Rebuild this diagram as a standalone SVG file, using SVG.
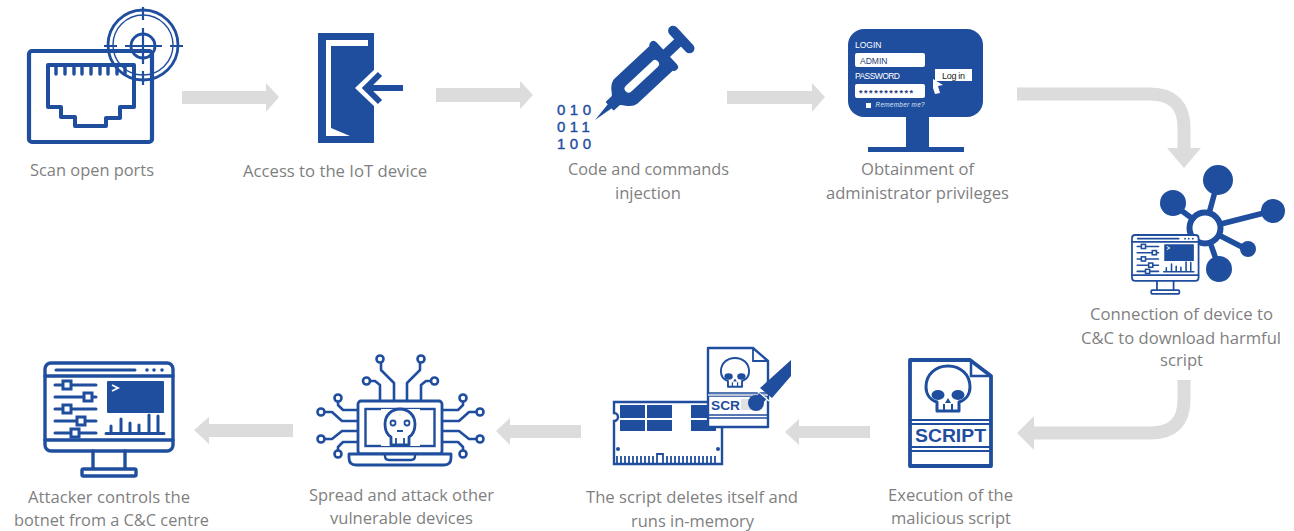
<svg xmlns="http://www.w3.org/2000/svg" xmlns:xlink="http://www.w3.org/1999/xlink" width="1294" height="531" viewBox="0 0 1294 531">
<style>
.lbl{font-family:"Open Sans","Noto Sans",sans-serif;font-size:16px;fill:#7f7f7f;text-anchor:middle}
.o{fill:none;stroke:#1f4e9e;stroke-linejoin:round;stroke-linecap:round}
.f{fill:#1f4e9e}
.w{fill:#fff}
.arr{fill:#dcdcdc}
.bent{fill:none;stroke:#dcdcdc;stroke-width:13}
.ui{font-family:"Liberation Sans",sans-serif}
.bold{font-family:"Liberation Sans",sans-serif;font-weight:bold;fill:#1f4e9e}
.bin{font-family:"Liberation Sans",sans-serif;font-size:15px;fill:#1f4e9e;stroke:#1f4e9e;stroke-width:.4;letter-spacing:4.5px}
</style>
<defs>
<g id="skull">
<path d="M-11 23H11V14C18 12 22 6 22-1C22-14 12-22 0-22C-12-22-22-14-22-1C-22 6-18 12-11 14Z" fill="#fff" stroke="#1f4e9e" stroke-width="3" stroke-linejoin="round"/>
<path d="M-4 16V23M4 16V23" fill="none" stroke="#1f4e9e" stroke-width="2"/>
</g>
<g id="skull-eyes">
<ellipse cx="-10" cy="7" rx="6.5" ry="5" class="f"/><ellipse cx="10" cy="7" rx="6.5" ry="5" class="f"/>
<path d="M0 10L-3 15H3Z" class="f"/>
</g>
<g id="control">
<rect x="45" y="363" width="128" height="88" rx="6" fill="#fff" stroke="#1f4e9e" stroke-width="3.400"/>
<path d="M45 376H173M45 440H173" class="o" stroke-width="3.400"/>
<path d="M56 370H135" class="o" stroke-width="3"/>
<circle cx="147" cy="370" r="1.800" class="f"/><circle cx="154" cy="370" r="1.800" class="f"/><circle cx="162" cy="370" r="1.800" class="f"/>
<path d="M55 385H96M55 397H96M55 409H96M55 421H96M55 433H96" class="o" stroke-width="3"/>
<g fill="#fff" stroke="#1f4e9e" stroke-width="3">
<rect x="63" y="381" width="8" height="8"/><rect x="84" y="393" width="8" height="8"/><rect x="63" y="405" width="8" height="8"/><rect x="77" y="417" width="8" height="8"/><rect x="71" y="429" width="8" height="8"/>
</g>
<rect x="107" y="381" width="57" height="32" rx="1" class="f"/>
<path d="M112 385L118 388L112 391" fill="none" stroke="#fff" stroke-width="1.800"/>
<path d="M106 433.500H164M111 433V426M121 433V419M130 433V423M139 433V425M149 433V415M158 433V416" class="o" stroke-width="3"/>
<path d="M93 451V469M125 451V469" class="o" stroke-width="3.400"/>
<rect x="82" y="469" width="54" height="7" rx="1.500" fill="#fff" stroke="#1f4e9e" stroke-width="3.400"/>
</g>
</defs>

<g id="connectors">
<path class="arr" d="M182 91H266V83L279 97L266 112V104H182Z"/>
<path class="arr" d="M436 88H520V81L533 95L520 109V102H436Z"/>
<path class="arr" d="M727 91H812V83L825 97L812 112V104H727Z"/>
<path class="bent" d="M1017 94H1150Q1184 94 1184 128V150"/>
<path class="arr" d="M1167 148H1201L1184 168Z"/>
<path class="bent" d="M1184 380V400Q1184 433 1150 433H1032"/>
<path class="arr" d="M1034 416V450L1017 433Z"/>
<path class="arr" d="M870 426H799V419L785 432L799 445V438H870Z"/>
<path class="arr" d="M581 425H510V418L496 431L510 445V438H581Z"/>
<path class="arr" d="M293 424H209V417L194 430L209 444V437H293Z"/>
</g>

<g id="node-scan">
<rect x="29" y="51" width="123" height="91" rx="3" class="o" stroke-width="4.200"/>
<path d="M48 65H134V107H120V118H106V126H75V117H61V107H48Z" class="o" stroke-width="4"/>
<path d="M56 65V74M65 65V74M74 65V74M82 65V74M91 65V74M100 65V74M108 65V74M117 65V74M125 65V74" class="o" stroke-width="3.400" stroke-linecap="butt"/>
<g fill="none" stroke="#1f4e9e" stroke-width="2">
<circle cx="143" cy="45" r="35" stroke-width="2.800"/><circle cx="143" cy="45" r="30" stroke-width="1.400"/>
<circle cx="143" cy="46" r="12" stroke-width="2.800"/>
<path d="M143 7V20M143 71V85M104 46H117M170 46H183M143 28V64M125 46H162" stroke-width="2.200"/>
</g>
<text class="lbl" x="92" y="176" textLength="124" lengthAdjust="spacingAndGlyphs">Scan open ports</text>
</g>

<g id="node-access">
<rect x="318" y="33" width="56" height="110" class="f"/>
<path d="M326 40H368V46H331V128L350 136H326Z" class="w"/>
<path d="M376 68L355 88L376 108Z" class="w"/>
<path d="M380 74L366 88L380 102" fill="none" stroke="#1f4e9e" stroke-width="6"/>
<path d="M367 88H403" fill="none" stroke="#1f4e9e" stroke-width="6"/>
<text class="lbl" x="335" y="177" textLength="184" lengthAdjust="spacingAndGlyphs">Access to the IoT device</text>
</g>

<g id="node-inject">
<g transform="translate(595 120) rotate(-43)">
<path d="M0 0L22-3V3Z" class="f"/>
<path d="M21-5H28C32-5 33-15 42-16H94V16H42C33 15 32 5 28 5H21Z" class="f" stroke="#1f4e9e" stroke-width="2" stroke-linejoin="round"/>
<rect x="90" y="-19" width="8" height="38" rx="4" class="f"/>
<rect x="97" y="-5" width="20" height="10" class="f"/>
<rect x="113" y="-17" width="10" height="34" rx="5" class="f"/>
<rect x="42" y="-4" width="44" height="8" rx="4" class="w"/>
</g>
<text class="bin" x="557" y="115">010</text>
<text class="bin" x="557" y="132">011</text>
<text class="bin" x="557" y="149">100</text>
<text class="lbl" x="648.500" y="175" textLength="161" lengthAdjust="spacingAndGlyphs">Code and commands</text>
<text class="lbl" x="648" y="199" textLength="66" lengthAdjust="spacingAndGlyphs">injection</text>
</g>

<g id="node-login">
<rect x="848" y="29" width="135" height="88" rx="16" class="f"/>
<rect x="906" y="117" width="23" height="31" class="f"/>
<rect x="868" y="147" width="96" height="5" class="f"/>
<text class="ui" x="855" y="48" font-size="8.500" fill="#fff">LOGIN</text>
<rect x="855" y="53" width="70" height="14" rx="2" class="w"/>
<text class="ui" x="860" y="64" font-size="8.500" fill="#1f3d7a">ADMIN</text>
<text class="ui" x="855" y="78.500" font-size="8.500" fill="#fff" textLength="45">PASSWORD</text>
<rect x="855" y="84" width="70" height="14" rx="2" class="w"/>
<text class="ui" x="859" y="95.500" font-size="9" font-weight="bold" fill="#1f3d7a" textLength="54">***********</text>
<rect x="935" y="69" width="37" height="12" class="w"/>
<text class="ui" x="942" y="79" font-size="9" fill="#222" textLength="23">Log in</text>
<path d="M933 79L943 85L938 86L940 93L935 94L933 88Z" fill="#fff"/>
<rect x="866" y="103" width="5" height="5" class="w"/>
<text class="ui" x="875.500" y="107" font-size="6.300" font-style="italic" fill="#dbe4f5" textLength="49">Remember me?</text>
<text class="lbl" x="917.500" y="175" textLength="113" lengthAdjust="spacingAndGlyphs">Obtainment of</text>
<text class="lbl" x="917.500" y="199" textLength="183" lengthAdjust="spacingAndGlyphs">administrator privileges</text>
</g>

<g id="node-connection">
<path d="M1205 228L1216 188M1205 228L1178 208M1205 228L1268 212M1205 228L1246 249M1205 228L1217 262" class="o" stroke-width="5.500" stroke-linecap="butt"/>
<circle cx="1218" cy="180" r="15" class="f"/><circle cx="1173" cy="203" r="13" class="f"/><circle cx="1273" cy="211" r="12" class="f"/><circle cx="1248" cy="249" r="8" class="f"/><circle cx="1219" cy="269" r="13" class="f"/>
<circle cx="1205" cy="228" r="15.500" fill="#fff" stroke="#1f4e9e" stroke-width="6"/>
<use xlink:href="#control" href="#control" transform="translate(1132 235) scale(.52) translate(-45 -363)"/>
<text class="lbl" x="1181.500" y="320" textLength="183" lengthAdjust="spacingAndGlyphs">Connection of device to</text>
<text class="lbl" x="1181" y="344" textLength="200" lengthAdjust="spacingAndGlyphs">C&amp;C to download harmful</text>
<text class="lbl" x="1181.500" y="366" textLength="43" lengthAdjust="spacingAndGlyphs">script</text>
</g>

<g id="node-execution">
<path d="M910 360H970L991 376V466H910Z" fill="#fff" stroke="#1f4e9e" stroke-width="3.800" stroke-linejoin="round"/>
<path d="M971 360V376H991" fill="none" stroke="#1f4e9e" stroke-width="2.500"/>
<path d="M910 420H991M910 424H991M910 447H991M910 451H991" fill="none" stroke="#1f4e9e" stroke-width="1.800"/>
<use href="#skull" xlink:href="#skull" transform="translate(948 388)"/>
<use href="#skull-eyes" xlink:href="#skull-eyes" transform="translate(948 388)"/>
<text class="bold" x="950.500" y="441.500" font-size="19" text-anchor="middle" textLength="71" lengthAdjust="spacingAndGlyphs">SCRIPT</text>
<text class="lbl" x="950.500" y="501" textLength="125" lengthAdjust="spacingAndGlyphs">Execution of the</text>
<text class="lbl" x="951" y="524" textLength="120" lengthAdjust="spacingAndGlyphs">malicious script</text>
</g>

<g id="node-memory">
<path d="M614 402H722V464H614V421A4 4 0 0 0 614 413Z" fill="#fff" stroke="#1f4e9e" stroke-width="2.400"/>
<rect x="620" y="405" width="25" height="13" class="f"/><rect x="647" y="405" width="25" height="13" class="f"/><rect x="691" y="405" width="25" height="13" class="f"/>
<rect x="620" y="420" width="25" height="11" class="f"/><rect x="647" y="420" width="25" height="11" class="f"/><rect x="691" y="420" width="25" height="11" class="f"/>
<circle cx="618" cy="449" r="2" class="f"/><circle cx="718" cy="449" r="2" class="f"/>
<path d="M617 464V456M621 464V456M625 464V456M629 464V456M633 464V456M637 464V456M641 464V456M645 464V456M649 464V456M653 464V456M657 464V454H663V464M667 464V456M671 464V456M675 464V456M679 464V456M683 464V456M687 464V456M691 464V456M695 464V456M699 464V456M703 464V456M707 464V456M711 464V456M715 464V456" fill="none" stroke="#1f4e9e" stroke-width="1.800"/>
<path d="M708 348H753L768 361V427H708Z" fill="#fff" stroke="#1f4e9e" stroke-width="2.400" stroke-linejoin="round"/>
<path d="M753 348V361H768" fill="none" stroke="#1f4e9e" stroke-width="1.800"/>
<path d="M708 393H768M708 396H768M708 415H768M708 418H768" fill="none" stroke="#1f4e9e" stroke-width="1.300"/>
<rect x="708" y="394" width="60" height="2" fill="#b9c3d6"/>
<use href="#skull" xlink:href="#skull" transform="translate(735 372) scale(.64)"/>
<use href="#skull-eyes" xlink:href="#skull-eyes" transform="translate(735 372) scale(.64)"/>
<text class="bold" x="711" y="410" font-size="13.500" textLength="29" lengthAdjust="spacingAndGlyphs">SCR</text>
<rect x="741" y="399" width="11" height="11" fill="#dfe1e4"/>
<path d="M791 360V376L772 398L760 388Z" class="f"/>
<path d="M758 392L769 401" stroke="#fff" stroke-width="1.500"/>
<circle cx="756" cy="403" r="8" class="f"/>
<path d="M757 396L764 402" stroke="#1f4e9e" stroke-width="7"/>
<text class="lbl" x="692" y="503" textLength="212" lengthAdjust="spacingAndGlyphs">The script deletes itself and</text>
<text class="lbl" x="692.500" y="527" textLength="123" lengthAdjust="spacingAndGlyphs">runs in-memory</text>
</g>

<g id="node-spread">
<g fill="none" stroke="#1f4e9e" stroke-width="2.600" stroke-linejoin="round">
<path d="M380 401V385L375 381H370M394 401V383L381 370V363M358 410H343L338 405V402M358 421H342L332 412H325M358 431H342L332 439H325M358 442H343L338 447V451"/>
<circle cx="366.500" cy="381" r="3.500"/><circle cx="380" cy="359" r="3.500"/><circle cx="338" cy="398" r="3.500"/><circle cx="321" cy="412" r="3.500"/><circle cx="321" cy="439" r="3.500"/><circle cx="338" cy="454" r="3.500"/>
</g>
<g transform="matrix(-1 0 0 1 801 0)" fill="none" stroke="#1f4e9e" stroke-width="2.600" stroke-linejoin="round">
<path d="M380 401V385L375 381H370M394 401V383L381 370V363M358 410H343L338 405V402M358 421H342L332 412H325M358 431H342L332 439H325M358 442H343L338 447V451"/>
<circle cx="366.500" cy="381" r="3.500"/><circle cx="380" cy="359" r="3.500"/><circle cx="338" cy="398" r="3.500"/><circle cx="321" cy="412" r="3.500"/><circle cx="321" cy="439" r="3.500"/><circle cx="338" cy="454" r="3.500"/>
</g>
<rect x="358" y="401" width="84" height="53" rx="3" fill="#fff" stroke="#1f4e9e" stroke-width="2.800"/>
<rect x="365.500" y="409" width="69" height="37" fill="none" stroke="#1f4e9e" stroke-width="2.400"/>
<path d="M349 454H451V458Q451 465 444 465H356Q349 465 349 458Z" fill="#fff" stroke="#1f4e9e" stroke-width="2.800" stroke-linejoin="round"/>
<path d="M385 454V456Q385 460 389 460H411Q415 460 415 456V454" fill="none" stroke="#1f4e9e" stroke-width="2.400"/>
<path d="M381 409H420V446H381Z" fill="#fff"/>
<path d="M391 445V437C386 434 385 430 385 424C385 415 392 409 400 409C408 409 415 415 415 424C415 430 414 434 409 437V445Z" fill="#fff" stroke="#1f4e9e" stroke-width="2.800" stroke-linejoin="round"/>
<path d="M396 438V445M404 438V445M397 431H403" fill="none" stroke="#1f4e9e" stroke-width="1.800"/>
<circle cx="393" cy="423" r="2.500" fill="none" stroke="#1f4e9e" stroke-width="1.800"/><circle cx="407" cy="423" r="2.500" fill="none" stroke="#1f4e9e" stroke-width="1.800"/>
<text class="lbl" x="401.500" y="501" textLength="185" lengthAdjust="spacingAndGlyphs">Spread and attack other</text>
<text class="lbl" x="401.500" y="524" textLength="143" lengthAdjust="spacingAndGlyphs">vulnerable devices</text>
</g>

<g id="node-control">
<use href="#control" xlink:href="#control"/>
<text class="lbl" x="109" y="503" textLength="162" lengthAdjust="spacingAndGlyphs">Attacker controls the</text>
<text class="lbl" x="111.500" y="526" textLength="195" lengthAdjust="spacingAndGlyphs">botnet from a C&amp;C centre</text>
</g>
</svg>
